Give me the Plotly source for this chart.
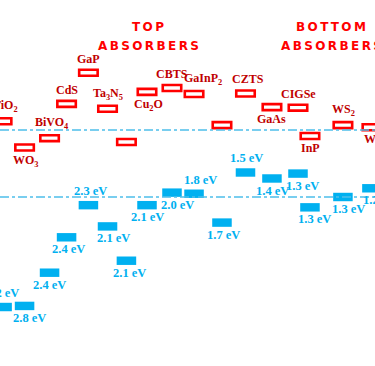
import plotly.graph_objects as go

# ---- data ----
materials = ["TiO<sub>2</sub>", "WO<sub>3</sub>", "BiVO<sub>4</sub>", "CdS", "GaP",
             "Ta<sub>3</sub>N<sub>5</sub>", "", "Cu<sub>2</sub>O", "CBTS",
             "GaInP<sub>2</sub>", "", "CZTS", "GaAs", "CIGSe", "InP",
             "WS<sub>2</sub>", "WSe<sub>2</sub>"]
x_pos = [0.10, 1.17, 2.36, 3.17, 4.21, 5.12, 6.02, 7.00, 8.19, 9.24,
         10.57, 11.69, 12.95, 14.19, 14.76, 16.33, 17.71]
# band edges (V vs NHE): conduction band (top) and valence band (bottom)
cb_edge = [-0.16, 0.32, 0.15, -0.48, -1.05, -0.39, 0.22, -0.70, -0.77, -0.66,
           -0.09, -0.67, -0.42, -0.41, 0.11, -0.09, -0.05]
vb_edge = [3.25, 3.23, 2.62, 1.97, 1.38, 1.77, 2.40, 1.38, 1.15, 1.17,
           1.70, 0.78, 0.89, 0.80, 1.42, 1.23, 1.07]
gap_labels = ["3.2 eV", "2.8 eV", "2.4 eV", "2.4 eV", "2.3 eV", "2.1 eV",
              "2.1 eV", "2.1 eV", "2.0 eV", "1.8 eV", "1.7 eV", "1.5 eV",
              "1.4 eV", "1.3 eV", "1.3 eV", "1.3 eV", "1.2 eV"]
redox_levels = [0.0, 1.23]  # H+/H2 and O2/H2O
group_titles = ["TOP", "BOTTOM"]
group_centers = [7.03, 15.75]

# ---- label placement (style) ----
name_side = ["up", "down", "up", "up", "up", "up", "up", "down", "up", "up",
             "up", "up", "down", "up", "down", "up", "down"]
name_dx = [3, 1.5, 2.5, 0, 0, 0, 0, 1, 0, 9, 0, 2.5, 0, 1, 1, 1, 6]
gap_side = ["up", "down", "down", "down", "up", "down", "down", "down", "down",
            "up", "down", "up", "down", "down", "down", "down", "down"]
gap_dx = [0, 5, 0, 1.5, 2.5, 6, 3.5, 0, 6, 6, 2, 1.5, 1, 5, 5, 6, 8]

RED = "#ff0000"
DARKRED = "#c00000"
BLUE = "#00b0f0"
BAR_W = 0.93
THK_RED = 0.11
THK_BLUE = 0.155

fig = go.Figure()

fig.add_trace(go.Bar(
    x=x_pos, y=[THK_BLUE] * len(x_pos), base=[v - THK_BLUE / 2 for v in vb_edge],
    width=BAR_W, marker=dict(color=BLUE, line=dict(width=0)), hoverinfo="skip"))
fig.add_trace(go.Bar(
    x=x_pos, y=[THK_RED] * len(x_pos), base=[v - THK_RED / 2 for v in cb_edge],
    width=BAR_W - 0.05, marker=dict(color="white", line=dict(color=RED, width=2.6)),
    hoverinfo="skip"))

for r in redox_levels:
    fig.add_hline(y=r, line=dict(color="#4dbfea", width=1.5, dash="dashdot"))


def labels(texts, edges, sides, dxs, color, size):
    half = 0.075
    for x, t, e, s, dx in zip(x_pos, texts, edges, sides, dxs):
        if not t:
            continue
        up = s == "up"
        fig.add_annotation(
            x=x, y=e - half if up else e + half, text=t, showarrow=False,
            xanchor="center", yanchor="bottom" if up else "top",
            xshift=dx, yshift=2 if up else 0, borderpad=0,
            font=dict(family="Liberation Serif", size=size, color=color, weight="bold"))


labels(materials, cb_edge, name_side, name_dx, DARKRED, 12)
labels(gap_labels, vb_edge, gap_side, gap_dx, BLUE, 12.5)

ts = "\u2009"
for txt, xc in zip(group_titles, group_centers):
    fig.add_annotation(x=xc, y=-1.89, text=ts.join(txt), showarrow=False,
                       font=dict(family="DejaVu Sans", size=12, color=RED, weight="bold"))
    fig.add_annotation(x=xc + 0.02, y=-1.55, text=ts.join("ABSORBERS"), showarrow=False,
                       font=dict(family="DejaVu Sans", size=12, color=RED, weight="bold"))

fig.update_layout(
    width=375, height=366, margin=dict(l=0, r=0, t=0, b=0),
    plot_bgcolor="white", paper_bgcolor="white", showlegend=False,
    barmode="overlay",
    xaxis=dict(range=[0, 375 / 21], visible=False),
    yaxis=dict(range=[4.333, -2.387], visible=False),
)
fig.write_html("out.html", config={"displayModeBar": False},
               post_script="document.body.style.margin='0';")
